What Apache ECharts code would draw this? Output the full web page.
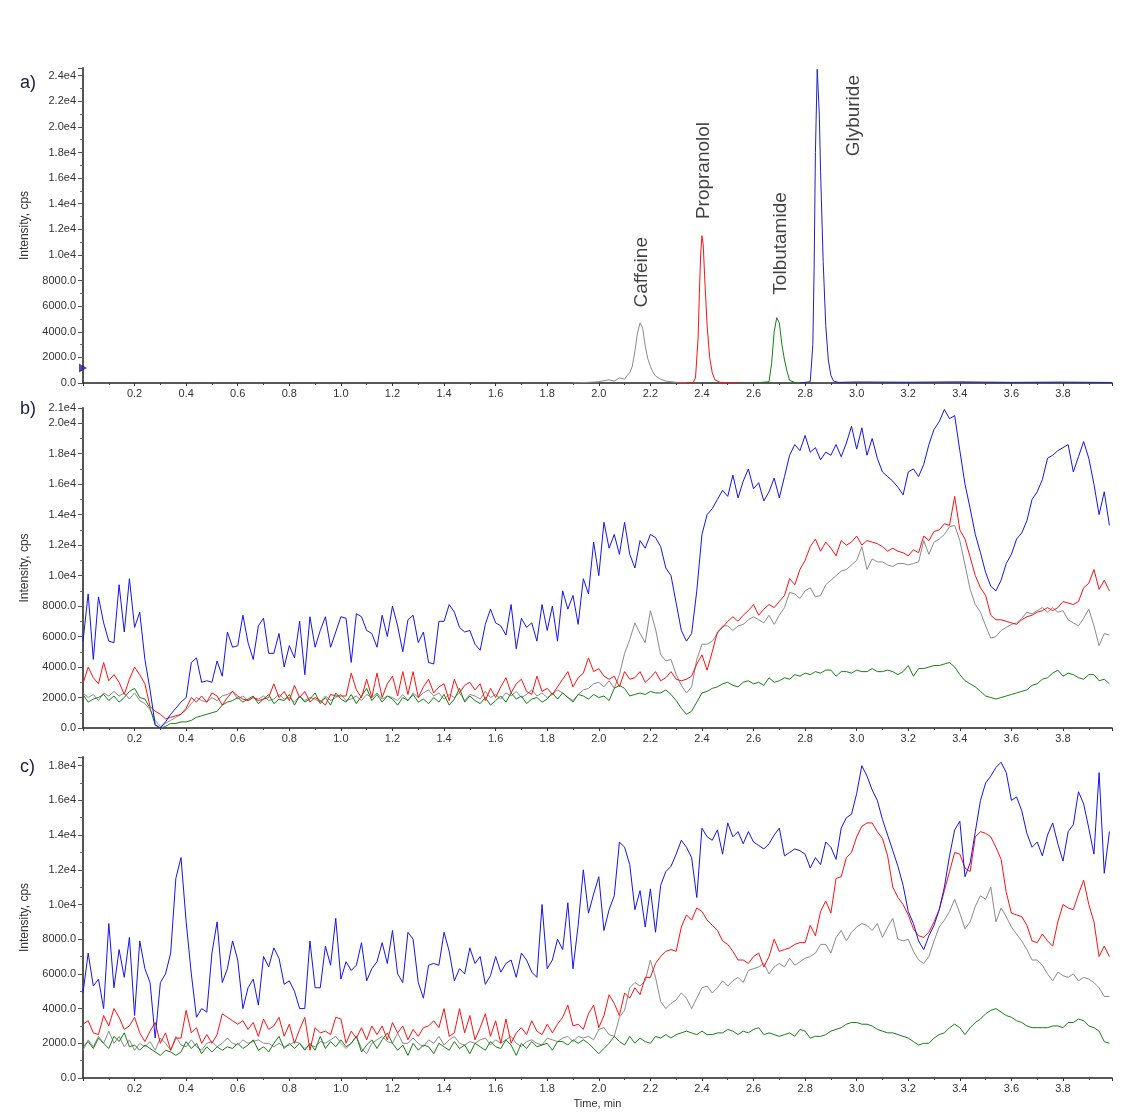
<!DOCTYPE html>
<html>
<head>
<meta charset="utf-8">
<script src="https://cdn.jsdelivr.net/npm/echarts@6/dist/echarts.min.js"></script>
<style>
html,body{margin:0;padding:0;background:#fff;}
#main{width:1130px;height:1114px;}
</style>
</head>
<body>
<div id="main"></div>
<script>
// ---------- scan times for panels b and c (every 0.02 min) ----------
const SCAN_START = 0.0, SCAN_STEP = 0.02, SCAN_COUNT = 200;
const scanTimes = Array.from({length: SCAN_COUNT}, (_, i) => +(SCAN_START + i * SCAN_STEP).toFixed(2));

// ---------- panel a: standards (XIC peaks) ----------
const caffeineT = [1.90, 1.96, 2.00, 2.04, 2.06, 2.08, 2.10, 2.11, 2.12, 2.13, 2.14, 2.15, 2.16, 2.165, 2.17, 2.18, 2.19, 2.20, 2.21, 2.22, 2.24, 2.26, 2.30, 2.34];
const caffeineI = [0, 50, 100, 250, 150, 400, 300, 600, 800, 1300, 2500, 3900, 4700, 4800, 4300, 2900, 1900, 1300, 850, 550, 300, 150, 50, 0];
const propranololT = [2.30, 2.365, 2.375, 2.385, 2.39, 2.395, 2.40, 2.405, 2.41, 2.42, 2.43, 2.44, 2.45, 2.47, 2.55];
const propranololI = [0, 0, 400, 3500, 7000, 10000, 11500, 10800, 8500, 4500, 2000, 800, 250, 50, 0];
const tolbutamideT = [2.60, 2.66, 2.67, 2.68, 2.69, 2.695, 2.70, 2.71, 2.72, 2.73, 2.74, 2.76, 2.80];
const tolbutamideI = [0, 100, 1500, 4000, 5100, 5000, 4700, 3000, 1800, 900, 200, 50, 0];
const glyburideT = [2.78, 2.82, 2.83, 2.835, 2.84, 2.847, 2.855, 2.86, 2.87, 2.88, 2.89, 2.90, 2.91, 2.93, 3.0, 3.2, 3.4, 3.6, 3.8, 3.99];
const glyburideI = [0, 100, 3000, 9000, 18000, 24500, 21000, 16500, 9500, 4500, 1800, 600, 150, 50, 80, 60, 90, 50, 70, 40];

// compound annotations (time, intensity at text start)
const compoundNames = ['Caffeine', 'Propranolol', 'Tolbutamide', 'Glyburide'];
const compoundLabelT = [2.167, 2.407, 2.705, 2.988];
const compoundLabelI = [5900, 12800, 6900, 17700];
const thresholdMarker = [0, 1170];

// ---------- panel b ----------
const bBlue = [
5700, 8800, 4500, 8600, 6900, 5700, 5600, 9400, 6300, 9800,
6600, 7600, 4500, 2500, 200, 0, 400, 900, 1300, 1700,
2000, 4300, 4600, 3000, 3100, 3000, 4400, 3400, 6300, 5300,
5400, 7400, 5600, 4500, 6700, 7200, 4900, 4900, 6200, 4000,
5400, 4600, 7000, 3500, 7300, 5300, 6400, 7300, 5300, 6300,
7300, 7200, 4300, 7500, 7300, 6400, 6200, 5300, 7400, 6000,
8000, 6700, 5000, 7100, 7400, 5600, 6300, 4300, 4200, 7000,
7000, 8100, 7600, 6600, 6300, 6400, 5500, 5100, 6800, 7800,
6900, 6700, 6100, 8100, 5200, 7200, 6600, 6900, 5700, 8100,
6400, 8000, 5700, 9000, 7800, 8700, 6800, 9800, 8800, 12200,
10000, 13500, 11800, 12700, 11400, 13500, 11400, 10500, 12300, 11800,
12700, 12500, 11900, 10500, 10000, 8200, 6400, 5700, 6200, 9000,
12700, 14000, 14400, 15000, 15600, 15200, 16600, 15100, 16200, 17000,
15700, 16100, 14900, 15500, 16400, 15100, 16500, 17900, 18600, 18200,
19200, 18100, 18400, 17600, 18100, 17900, 18600, 17800, 18700, 19800,
18300, 19700, 17900, 19000, 17700, 16800, 16500, 16200, 15800, 15300,
16800, 17000, 16500, 17300, 18600, 19600, 20100, 20900, 20300, 20500,
18200, 16000, 14400, 12700, 11500, 10200, 9300, 9000, 9700, 10800,
11400, 12400, 12800, 13600, 15000, 15500, 16300, 17700, 17900, 18200,
18400, 18600, 16800, 17800, 18800, 17700, 16000, 14000, 15500, 13300];
const bRed = [
2900, 4000, 3300, 2900, 4300, 3100, 3500, 3000, 2200, 3200,
4000, 3500, 2900, 1400, 1100, 900, 600, 700, 800, 900,
1300, 2000, 1700, 2100, 1700, 2300, 2100, 1500, 2000, 2400,
2100, 1900, 1800, 2000, 1800, 1900, 2000, 2900, 2000, 2400,
1800, 2800, 2000, 2400, 1700, 2000, 1800, 1500, 2200, 2100,
2100, 2100, 3600, 2500, 2000, 3200, 2000, 3600, 2000, 2900,
3400, 2100, 3700, 2200, 3700, 2000, 2700, 3200, 2300, 2700,
2900, 1800, 3200, 2300, 2800, 3000, 2500, 2900, 1800, 2600,
2000, 2700, 3300, 2300, 2900, 3200, 2400, 2200, 3400, 2400,
2600, 2200, 2700, 3200, 3700, 2700, 3300, 3600, 4600, 3700,
3900, 3400, 3200, 3400, 2700, 3700, 3200, 3300, 3700, 3000,
3300, 3700, 3100, 3300, 3700, 3200, 3100, 3200, 3400, 4200,
4800, 3800, 5000, 6300, 6600, 7000, 7300, 7000, 7400, 7700,
8100, 7400, 7800, 8100, 7900, 8300, 8700, 9800, 9400, 10400,
11000, 11900, 12400, 11600, 12200, 11800, 11300, 12300, 12000, 12200,
12600, 12000, 12300, 12200, 12100, 11900, 11600, 11800, 11600, 11500,
11300, 11700, 11500, 12600, 12300, 12900, 13000, 13400, 13300, 15200,
13000, 12400, 11200, 10000, 9200, 8700, 7400, 7100, 7100, 7000,
6900, 6800, 7100, 7300, 7400, 7600, 7700, 7900, 7700, 7900,
8300, 8200, 8100, 8300, 9200, 9500, 10400, 9100, 9700, 9000];
const bGrey = [
2300, 2000, 2200, 1800, 2300, 2100, 2400, 2100, 2300, 1900,
2300, 1800, 1600, 1200, 500, 100, 300, 500, 700, 900,
1200, 1600, 2000, 1800, 1700, 2000, 1800, 2100, 2200, 2400,
1900, 2100, 1800, 2000, 1900, 2100, 1800, 1900, 2200, 1900,
2000, 1700, 2100, 1800, 2000, 1900, 1700, 2100, 1800, 2000,
2200, 1800, 1900, 2100, 1800, 2200, 2000, 2300, 1900, 2100,
2000, 1800, 2200, 1800, 2300, 2000, 2300, 2500, 2100, 2300,
1900, 2200, 2000, 2300, 1800, 2200, 2100, 1900, 2400, 2000,
2200, 1900, 2300, 2100, 2400, 2000, 2200, 2500, 2100, 2300,
2000, 2200, 2500, 2300, 2000, 1800, 2200, 2500, 2600, 2900,
3000, 2700, 3100, 2600, 3500, 4900, 5800, 6900, 6200, 5600,
7700, 6500, 4800, 4400, 4500, 3500, 2800, 2300, 2700, 4500,
5500, 5500, 5700, 6200, 6700, 6700, 6400, 6700, 6800, 7100,
7300, 7100, 6900, 7400, 6800, 7400, 7900, 8900, 8800, 8500,
9000, 9200, 8600, 8700, 9400, 9700, 10000, 10300, 10400, 10700,
11000, 11900, 10400, 11100, 10900, 10900, 10700, 10600, 10800, 10800,
10700, 10800, 10900, 12300, 11400, 12200, 12400, 12700, 13200, 13300,
12300, 10700, 9100, 8100, 7600, 6700, 5900, 6000, 6400, 6600,
6800, 6900, 7200, 7600, 7500, 7700, 7900, 7600, 7900, 7600,
7700, 7100, 6900, 6700, 7200, 7800, 6700, 5400, 6200, 6100];
const bGreen = [
2200, 1700, 1900, 2000, 2200, 1800, 2100, 1700, 2000, 2400,
2600, 2000, 1900, 1300, 200, 0, 100, 300, 300, 400,
400, 500, 700, 800, 900, 1000, 1100, 1500, 1700, 1800,
2000, 1700, 1900, 2100, 1600, 1900, 2200, 1600, 1900, 1800,
2200, 1500, 2100, 1700, 1900, 2300, 1600, 2000, 1500, 2300,
1900, 1700, 2200, 1600, 2100, 2600, 1800, 2200, 1700, 2100,
1900, 1500, 2000, 1800, 2200, 1700, 1900, 1600, 2000, 1700,
2200, 1500, 1900, 2600, 1700, 2100, 1800, 1600, 2000, 1500,
1800, 2100, 1700, 2300, 1900, 2100, 1600, 1900, 2000, 1700,
1900, 2300, 1900, 2300, 2000, 1700, 2200, 2100, 1900, 2200,
2000, 2100, 1800, 2600, 2800, 2600, 2100, 2200, 2300, 2200,
2400, 2300, 2300, 2500, 2200, 1800, 1300, 900, 1100, 1700,
2300, 2400, 2600, 2700, 2900, 3000, 2800, 2700, 3000, 3100,
2900, 3000, 2800, 3300, 3000, 3100, 3300, 3200, 3500, 3400,
3600, 3500, 3700, 3600, 3800, 3800, 3400, 3700, 3700, 3600,
3800, 3700, 3700, 3900, 3700, 3700, 3800, 3700, 3500, 3700,
4100, 3400, 3900, 3900, 4000, 4100, 4100, 4200, 4300, 4000,
3500, 3100, 2900, 2700, 2400, 2100, 2000, 1900, 2000, 2100,
2200, 2300, 2400, 2500, 2800, 2900, 3200, 3300, 3600, 3800,
3400, 3600, 3500, 3300, 3200, 3500, 3500, 3100, 3200, 2900];

// ---------- panel c ----------
const cBlue = [
4900, 7200, 5300, 5700, 4000, 8900, 5200, 7400, 5800, 8100,
3600, 7900, 6300, 5500, 2300, 5500, 6000, 7200, 11500, 12700,
9000, 6000, 3500, 4000, 3800, 7200, 9000, 5500, 6300, 7900,
6800, 4000, 5200, 5700, 4200, 7000, 6400, 7500, 6900, 5400,
5600, 5000, 4000, 4000, 7900, 5200, 5200, 7600, 6500, 9200,
5700, 6700, 6200, 6500, 7800, 5600, 6300, 6700, 7800, 6600,
8500, 6000, 5500, 8400, 8000, 5500, 4600, 6500, 6600, 6500,
8400, 7300, 5600, 6300, 6000, 7500, 6600, 7000, 5400, 5900,
7000, 6100, 6600, 6800, 5800, 7200, 6800, 6100, 5800, 10000,
6300, 6800, 8000, 7400, 10100, 6300, 8800, 12000, 9500, 10600,
11600, 8500, 9700, 10500, 13600, 13300, 12300, 9700, 10800, 8700,
10900, 8400, 11100, 11900, 12200, 12900, 13700, 13300, 12700, 10400,
14400, 13900, 13700, 14300, 12900, 14700, 13900, 14200, 13500, 14200,
13600, 13400, 13200, 13500, 14000, 14400, 12800, 13000, 13200, 13100,
12900, 12100, 12700, 12300, 13600, 13300, 12600, 14400, 15000, 15200,
16400, 18000, 17400, 16600, 16000, 14900, 14000, 13100, 12200, 11100,
9600, 8900, 7900, 7400, 8200, 8800, 9700, 11000, 12800, 14300,
14800, 11600, 12400, 14200, 16000, 17000, 17400, 17900, 18200, 17600,
16000, 16200, 15400, 14100, 13300, 13600, 12800, 14000, 14700, 13500,
12500, 14200, 14600, 16500, 15800, 14400, 12900, 17600, 11800, 14200];
const cRed = [
3100, 3300, 2600, 2500, 3600, 3000, 4000, 3500, 2800, 3000,
3500, 2600, 2100, 2700, 3200, 2000, 2600, 1600, 2300, 2300,
3900, 2600, 2900, 2000, 2500, 2000, 2500, 3700, 3500, 3300,
3100, 3300, 2800, 3200, 2400, 3400, 2800, 3000, 3500, 2400,
3100, 2000, 2800, 3500, 1600, 2900, 2600, 2700, 2500, 3500,
3400, 2000, 2700, 2300, 2900, 2200, 3000, 2500, 3000, 2200,
3200, 2600, 3000, 2200, 2800, 2400, 2900, 3000, 3300, 2900,
4000, 2400, 2600, 4000, 2600, 3600, 2200, 2900, 3700, 2400,
3300, 2000, 3400, 2000, 2600, 2900, 2500, 3300, 2700, 2500,
3100, 2600, 3100, 3500, 4200, 3000, 3100, 2800, 3700, 4200,
2900, 3600, 4800, 4300, 3600, 4900, 4600, 5200, 4800, 5800,
5800, 6600, 7000, 7300, 7400, 7300, 8700, 9400, 9100, 9800,
9600, 9100, 8800, 8500, 7900, 7700, 7300, 6800, 6800, 6600,
7000, 7200, 6400, 7000, 8000, 7300, 7400, 7500, 7700, 7800,
7800, 8800, 8200, 9600, 10200, 9500, 11500, 11600, 12700, 13000,
13900, 14500, 14700, 14700, 14200, 13800, 12800, 11000, 10400, 10000,
9400, 8600, 8200, 8100, 8400, 9000, 9700, 10800, 11900, 13000,
12900, 12100, 11900, 13900, 14200, 14100, 13900, 13300, 12600, 10700,
9500, 9400, 9300, 8800, 7900, 7800, 8300, 7900, 7600, 9000,
10000, 9800, 9700, 10600, 11400, 10000, 9000, 7000, 7600, 7000];
const cGrey = [
1600, 2200, 1800, 2400, 2000, 2700, 2000, 2400, 1800, 2200,
1600, 2000, 1800, 2100, 1600, 2300, 2000, 1600, 2400, 1900,
1800, 2200, 1800, 1600, 2000, 2100, 1800, 2000, 2300, 2000,
1900, 2200, 2000, 2100, 2200, 2000, 2000, 1800, 2000, 1800,
1900, 2100, 2000, 1700, 1900, 1800, 2100, 2000, 2200, 2400,
2000, 1700, 2000, 2400, 1700, 1400, 2000, 2200, 2400, 2100,
2000, 2600, 2000, 2000, 2300, 2000, 1800, 2200, 2000, 2400,
1900, 2200, 2400, 2000, 1900, 2100, 2000, 2200, 2300, 1900,
2200, 2000, 2200, 2400, 2000, 1800, 2100, 2200, 2000, 1900,
2300, 2200, 2100, 2300, 2400, 2100, 2400, 2300, 2400, 2200,
2800, 2900, 2500, 2400, 3500, 3900, 5200, 5500, 5300, 5600,
6800, 5800, 4400, 4000, 4300, 4500, 4900, 4600, 4000, 4600,
5200, 5300, 4900, 5200, 5600, 5300, 5600, 5800, 5500, 6200,
6300, 6400, 6600, 6000, 6400, 6600, 6400, 6900, 6500, 6700,
6900, 7000, 7200, 7700, 7700, 7200, 8100, 8500, 7900, 8400,
8700, 8900, 8800, 8500, 8900, 8100, 8700, 9200, 8000, 7900,
8000, 7300, 6800, 6600, 7000, 7900, 8700, 9100, 9600, 10300,
9500, 8600, 9000, 9900, 10500, 10300, 11000, 9000, 9800, 9300,
8700, 8300, 7900, 7400, 6800, 6800, 6500, 6000, 5600, 6100,
5900, 5800, 6000, 5600, 5800, 5700, 5500, 5200, 4700, 4700];
const cGreen = [
1800, 2100, 1700, 2300, 2000, 1700, 2400, 2100, 2600, 1800,
1900, 1600, 1900, 1700, 1500, 1300, 1600, 1500, 1300, 1500,
2100, 1700, 2000, 1400, 1800, 1500, 1800, 1600, 1800, 1700,
2000, 1700, 1900, 2200, 1600, 1800, 1500, 2000, 2400, 1700,
2000, 1700, 2000, 1600, 2000, 1600, 2400, 1700, 2100, 1800,
2200, 1800, 2000, 2400, 1500, 1900, 2200, 1700, 2200, 2600,
2000, 1600, 1900, 1300, 2000, 1600, 1900, 1800, 1400, 2000,
1800, 1600, 2100, 1700, 1900, 1400, 2000, 1800, 1600, 2100,
1800, 1700, 2200, 1900, 1300, 2000, 1700, 2100, 1800, 1900,
2000, 1600, 2100, 2100, 1900, 2200, 2000, 2200, 2000, 1700,
1400, 1700, 2000, 2400, 2100, 1900, 2400, 2000, 2300, 2100,
2000, 2400, 2300, 2500, 2300, 2500, 2600, 2700, 2600, 2500,
2700, 2500, 2500, 2600, 2600, 2800, 2700, 2500, 2700, 2600,
2800, 2900, 2500, 2600, 2500, 2400, 2500, 2600, 2400, 2800,
2700, 2300, 2400, 2400, 2500, 2700, 2800, 2900, 3100, 3200,
3200, 3100, 3100, 3000, 2800, 2700, 2600, 2600, 2500, 2400,
2300, 2100, 1900, 2000, 2000, 2300, 2500, 2600, 2900, 3100,
2900, 2500, 2900, 3200, 3400, 3700, 3900, 4000, 3800, 3600,
3500, 3300, 3200, 3000, 2900, 2900, 2900, 2900, 3000, 3000,
2900, 3200, 3200, 3400, 3300, 3000, 2900, 2700, 2100, 2000];

// ---------- axis settings ----------
const xMin = 0, xMax = 3.99, xStep = 0.2;
const yMaxA = 24600, yMaxB = 21000, yMaxC = 18500, yStep = 2000;
const panelLetters = ['a)', 'b)', 'c)'];

const COLORS = {grey: '#8a8a8a', red: '#ff1010', green: '#128212', blue: '#1414f0'};
const FONT = "'Liberation Sans', Arial, sans-serif";

function pairs(t, v) { return t.map((x, i) => [x, v[i]]); }

function yLabel(v) {
  return v >= 10000 ? (v / 10000).toFixed(1) + 'e4' : v.toFixed(1);
}

const grids = [
  {left: 83, right: 18, top: 68, height: 315},
  {left: 83, right: 18, top: 408, height: 320},
  {left: 83, right: 18, top: 757, height: 321}
];

function makeX(idx) {
  return {
    type: 'value', gridIndex: idx, min: xMin, max: xMax, interval: xStep,
    axisLine: {show: true, onZero: false, lineStyle: {color: '#222', width: 1.5}},
    axisTick: {show: true, length: 3, lineStyle: {color: '#333'}},
    minorTick: {show: true, splitNumber: 2, length: 2, lineStyle: {color: '#444'}},
    splitLine: {show: false},
    axisLabel: {
      show: true, showMinLabel: false, showMaxLabel: false, margin: 5,
      color: '#333', fontSize: 11, fontFamily: FONT,
      formatter: v => v.toFixed(1)
    },
    name: idx === 2 ? 'Time, min' : '',
    nameLocation: 'middle', nameGap: 20,
    nameTextStyle: {color: '#333', fontSize: 11, fontFamily: FONT}
  };
}

function makeY(idx, max, showMax) {
  return {
    type: 'value', gridIndex: idx, min: 0, max: max, interval: yStep,
    axisLine: {show: true, lineStyle: {color: '#555', width: 2}},
    axisTick: {show: true, length: 5, lineStyle: {color: '#555'}},
    minorTick: {show: true, splitNumber: 2, length: 3, lineStyle: {color: '#666'}},
    splitLine: {show: false},
    axisLabel: {
      show: true, showMaxLabel: showMax, hideOverlap: false, margin: 7,
      color: '#333', fontSize: 11, fontFamily: FONT, formatter: yLabel
    },
    name: 'Intensity, cps', nameLocation: 'middle', nameGap: 52,
    nameTextStyle: {color: '#333', fontSize: 12, fontFamily: FONT}
  };
}

function line(name, idx, data, color) {
  return {
    name: name, type: 'line', xAxisIndex: idx, yAxisIndex: idx, data: data,
    showSymbol: false, symbol: 'none', silent: true, animation: false,
    lineStyle: {color: color, width: 1}, itemStyle: {color: color}
  };
}

const series = [
  line('Caffeine', 0, pairs(caffeineT, caffeineI), COLORS.grey),
  line('Propranolol', 0, pairs(propranololT, propranololI), COLORS.red),
  line('Tolbutamide', 0, pairs(tolbutamideT, tolbutamideI), COLORS.green),
  line('Glyburide', 0, pairs(glyburideT, glyburideI), '#2020c8'),
  {
    type: 'scatter', xAxisIndex: 0, yAxisIndex: 0, silent: true, animation: false,
    symbolSize: 0,
    data: compoundNames.map((n, i) => ({name: n, value: [compoundLabelT[i], compoundLabelI[i]]})),
    label: {
      show: true, formatter: '{b}', position: 'inside', rotate: 90,
      align: 'left', verticalAlign: 'middle',
      color: '#111', fontSize: 19, fontFamily: FONT
    }
  },
  {
    type: 'scatter', xAxisIndex: 0, yAxisIndex: 0, silent: true, animation: false, clip: false,
    symbol: 'triangle', symbolRotate: -90, symbolSize: [9, 8],
    itemStyle: {color: '#22228c'}, data: [thresholdMarker]
  },
  line('Caffeine b', 1, pairs(scanTimes, bGrey), COLORS.grey),
  line('Tolbutamide b', 1, pairs(scanTimes, bGreen), COLORS.green),
  line('Propranolol b', 1, pairs(scanTimes, bRed), COLORS.red),
  line('Glyburide b', 1, pairs(scanTimes, bBlue), COLORS.blue),
  line('Caffeine c', 2, pairs(scanTimes, cGrey), COLORS.grey),
  line('Tolbutamide c', 2, pairs(scanTimes, cGreen), COLORS.green),
  line('Propranolol c', 2, pairs(scanTimes, cRed), COLORS.red),
  line('Glyburide c', 2, pairs(scanTimes, cBlue), COLORS.blue)
];

const letterTops = [74, 400, 758];

const option = {
  animation: false,
  backgroundColor: '#ffffff',
  grid: grids,
  xAxis: [makeX(0), makeX(1), makeX(2)],
  yAxis: [makeY(0, yMaxA, false), makeY(1, yMaxB, true), makeY(2, yMaxC, false)],
  series: series,
  graphic: panelLetters.map((t, i) => ({
    type: 'text', left: 20, top: letterTops[i], silent: true,
    style: {text: t, fill: '#1c1c3c', font: "18px " + FONT}
  }))
};

const chart = echarts.init(document.getElementById('main'), null, {renderer: 'canvas'});
chart.setOption(option);
</script>
</body>
</html>
